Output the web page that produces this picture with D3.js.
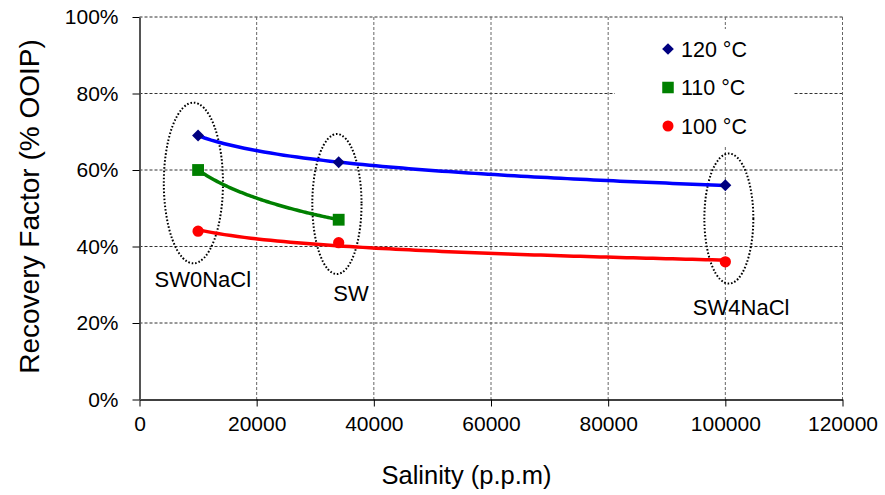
<!DOCTYPE html>
<html>
<head>
<meta charset="utf-8">
<script src="https://cdn.jsdelivr.net/npm/d3@7"></script>
<style>
  html, body { margin: 0; padding: 0; background: #fff; }
  svg text { font-family: "Liberation Sans", Arial, sans-serif; fill: #000; }
</style>
</head>
<body>
<svg id="chart" width="885" height="495"></svg>
<script>
// ---------- data ----------
const salinity120 = [10000, 34000, 100000];
const recovery120 = [69, 62, 56];
const salinity110 = [10000, 34000];
const recovery110 = [60, 47];
const salinity100 = [10000, 34000, 100000];
const recovery100 = [44, 41, 36];

const seriesNames = ["120 °C", "110 °C", "100 °C"];
const xTicks = [0, 20000, 40000, 60000, 80000, 100000, 120000];
const yTicks = [0, 20, 40, 60, 80, 100];

// annotation groups: centre (salinity, %), half-sizes (salinity, %), label anchor
const groupNames = ["SW0NaCl", "SW", "SW4NaCl"];
const groupCx = [9200, 33700, 100600];
const groupCy = [56.6, 51.1, 47.3];
const groupRx = [5050, 4200, 4180];
const groupRy = [21.0, 18.3, 17.0];
const groupLabelX = [10800, 36100, 102700];
const groupLabelY = [29.3, 25.8, 22.0];

// ---------- layout ----------
const svg = d3.select("#chart");
const L = 139.5, R = 842.5, T = 17, B = 399.5;
const x = d3.scaleLinear().domain([0, 120000]).range([L, R]);
const y = d3.scaleLinear().domain([0, 100]).range([B, T]);

// gridlines
const grid = svg.append("g");
grid.selectAll(".hg").data(yTicks.filter(d => d > 0)).enter().append("line")
  .attr("x1", L).attr("x2", R).attr("y1", d => y(d)).attr("y2", d => y(d))
  .attr("stroke", "#333").attr("stroke-width", 1).attr("stroke-dasharray", "3,2");
grid.selectAll(".vg").data(xTicks.filter(d => d > 0)).enter().append("line")
  .attr("y1", T).attr("y2", B).attr("x1", d => x(d)).attr("x2", d => x(d))
  .attr("stroke", "#666").attr("stroke-width", 1).attr("stroke-dasharray", "3,2");

// legend background (hides grid)
const legendBox = { x0: 615, x1: 793, y0: 29, y1: 146 };
svg.append("rect").attr("x", legendBox.x0).attr("y", legendBox.y0)
  .attr("width", legendBox.x1 - legendBox.x0).attr("height", legendBox.y1 - legendBox.y0)
  .attr("fill", "#fff");

// axes
const xAxis = d3.axisBottom(x).tickValues(xTicks).tickFormat(d3.format("d"))
  .tickSizeInner(7).tickSizeOuter(0).tickPadding(10);
const gx = svg.append("g").attr("transform", `translate(0,${B})`).call(xAxis);
gx.select(".domain").attr("stroke", "#000").attr("stroke-width", 1.5);
gx.selectAll(".tick line").attr("stroke", "#000");
gx.selectAll("text").style("font-size", "21px").attr("fill", "#000");

const yAxis = d3.axisLeft(y).tickValues(yTicks).tickFormat(d => d + "%")
  .tickSizeInner(7).tickSizeOuter(0).tickPadding(14);
const gy = svg.append("g").attr("transform", `translate(${L},0)`).call(yAxis);
gy.select(".domain").attr("stroke", "#555").attr("stroke-width", 2);
gy.selectAll(".tick line").attr("stroke", "#000");
gy.selectAll("text").style("font-size", "21px").attr("fill", "#000");

// axis titles
svg.append("text").attr("x", 466.5).attr("y", 484)
  .attr("text-anchor", "middle").style("font-size", "25.5px").text("Salinity (p.p.m)");
svg.append("text").attr("transform", "translate(39,206.5) rotate(-90)")
  .attr("text-anchor", "middle").style("font-size", "28px").text("Recovery Factor (% OOIP)");

// ellipses
const ell = svg.append("g");
groupNames.forEach((n, i) => {
  ell.append("ellipse")
    .attr("cx", x(groupCx[i])).attr("cy", y(groupCy[i]))
    .attr("rx", x(groupRx[i]) - x(0)).attr("ry", y(0) - y(groupRy[i]))
    .attr("fill", "none").attr("stroke", "#000").attr("stroke-width", 2)
    .attr("stroke-dasharray", "1.6,1.9");
  svg.append("text").attr("x", x(groupLabelX[i])).attr("y", y(groupLabelY[i]))
    .attr("text-anchor", "middle").style("font-size", "22px").text(n);
});

// logarithmic trend lines through each series
function logFit(xs, ys) {
  const lx = xs.map(Math.log);
  const mx = d3.mean(lx), my = d3.mean(ys);
  let sxy = 0, sxx = 0;
  lx.forEach((v, i) => { sxy += (v - mx) * (ys[i] - my); sxx += (v - mx) * (v - mx); });
  const b = sxy / sxx, a = my - b * mx;
  const x0 = d3.min(xs), x1 = d3.max(xs);
  return d3.range(0, 81).map(k => {
    const xv = x0 + (x1 - x0) * k / 80;
    return [xv, a + b * Math.log(xv)];
  });
}
const line = d3.line().x(d => x(d[0])).y(d => y(d[1]));

const series = [
  { xs: salinity120, ys: recovery120, line: "#0000ff", mark: "#000080", sym: d3.symbolSquare, size: 72, rot: 45 },
  { xs: salinity110, ys: recovery110, line: "#008000", mark: "#008000", sym: d3.symbolSquare, size: 140, rot: 0 },
  { xs: salinity100, ys: recovery100, line: "#ff0000", mark: "#ff0000", sym: d3.symbolCircle, size: 100, rot: 0 }
];

series.forEach(s => {
  svg.append("path").datum(logFit(s.xs, s.ys)).attr("d", line)
    .attr("fill", "none").attr("stroke", s.line).attr("stroke-width", 3.5);
});
series.forEach(s => {
  svg.append("g").selectAll("path").data(s.xs.map((v, i) => [v, s.ys[i]])).enter().append("path")
    .attr("transform", d => `translate(${x(d[0])},${y(d[1])}) rotate(${s.rot})`)
    .attr("d", d3.symbol().type(s.sym).size(s.size)).attr("fill", s.mark);
});

// legend
const leg = svg.append("g");
seriesNames.forEach((n, i) => {
  const cy = 49 + i * 38.5;
  leg.append("path").attr("transform", `translate(668,${cy}) rotate(${series[i].rot})`)
    .attr("d", d3.symbol().type(series[i].sym).size(series[i].size * 0.95)).attr("fill", series[i].mark);
  leg.append("text").attr("x", 681).attr("y", cy + 7.5).style("font-size", "21.5px").text(n);
});
</script>
</body>
</html>
